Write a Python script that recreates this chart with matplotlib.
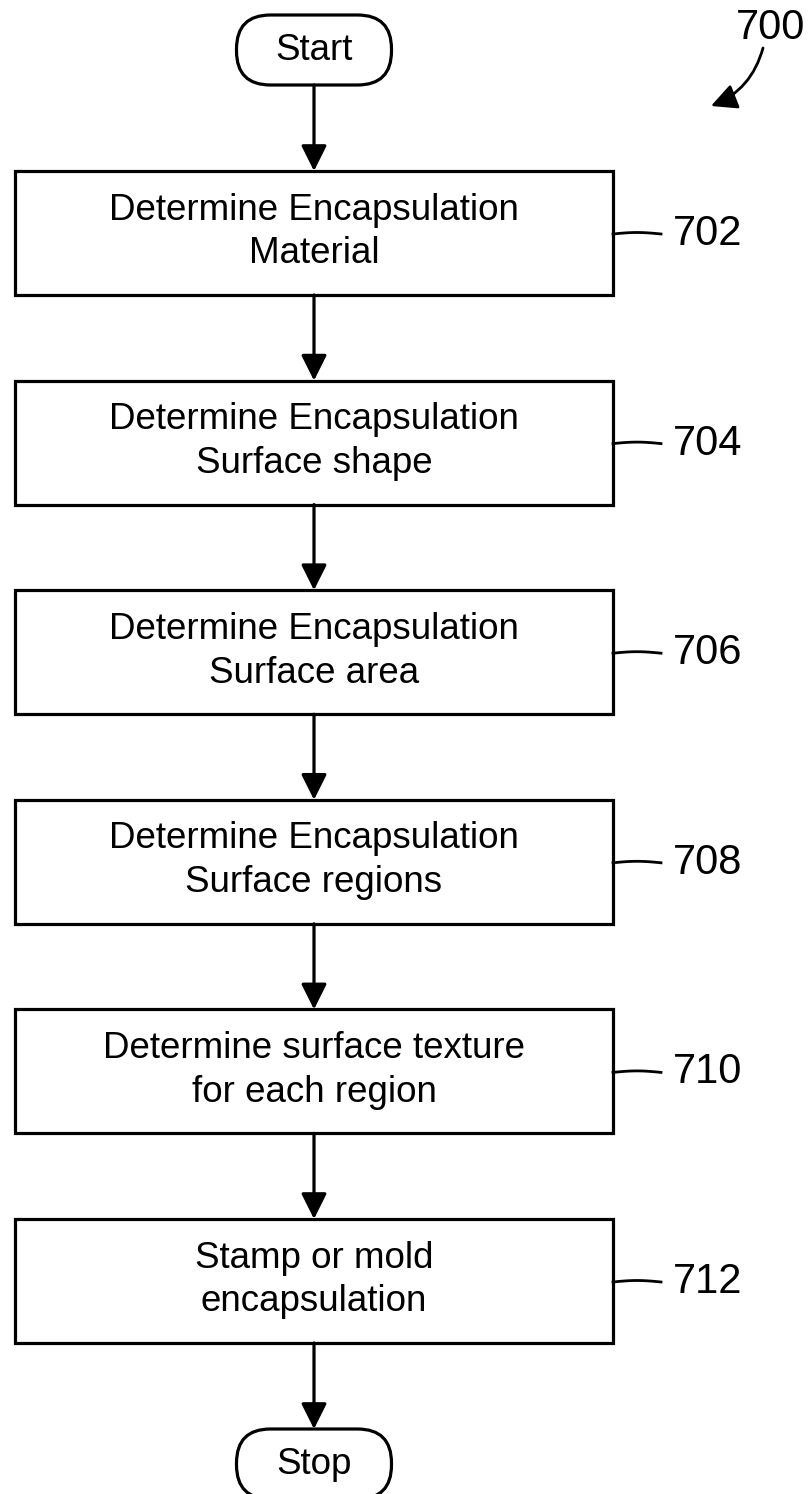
import matplotlib.pyplot as plt
from matplotlib.patches import FancyBboxPatch, Rectangle, FancyArrowPatch
import numpy as np

plt.rcParams['font.family'] = ['Liberation Sans', 'DejaVu Sans']

# flowchart content
steps = [
    'Determine Encapsulation\nMaterial',
    'Determine Encapsulation\nSurface shape',
    'Determine Encapsulation\nSurface area',
    'Determine Encapsulation\nSurface regions',
    'Determine surface texture\nfor each region',
    'Stamp or mold\nencapsulation',
]
step_ids = ['702', '704', '706', '708', '710', '712']
figure_id = '700'
terminals = ['Start', 'Stop']

W, H = 808, 1494
fig = plt.figure(figsize=(W / 100, H / 100), dpi=100)
ax = fig.add_axes([0, 0, 1, 1])
ax.set_xlim(0, W)
ax.set_ylim(H, 0)
ax.set_aspect('equal')
ax.axis('off')

lw = 2.3
cx = 314
box_l, box_r = 15, 613
box_h = 124
top0, gap = 171, 209.6
pill_w, pill_h = 155, 70
fs = 26.5


def pill(y_top, text):
    p = FancyBboxPatch((cx - pill_w / 2, y_top), pill_w, pill_h,
                       boxstyle='round,pad=0,rounding_size=%d' % (pill_h / 2 - 1),
                       fc='white', ec='black', lw=lw)
    ax.add_patch(p)
    ax.text(cx, y_top + pill_h / 2 + 1, text, ha='center', va='center', fontsize=fs)


def arrow(y0, y1):
    ax.add_patch(FancyArrowPatch((cx, y0), (cx, y1), arrowstyle='-|>,head_length=6,head_width=3',
                                 mutation_scale=2.6, color='black', lw=lw, shrinkA=0, shrinkB=0))


start_top = 15
stop_top = 1429
pill(start_top, terminals[0])
arrow(start_top + pill_h, top0)

for i, (txt, sid) in enumerate(zip(steps, step_ids)):
    top = top0 + i * gap
    ax.add_patch(Rectangle((box_l, top), box_r - box_l, box_h, fc='white', ec='black', lw=lw))
    mid = top + box_h / 2
    ax.text(cx, mid - 1, txt, ha='center', va='center', fontsize=fs, linespacing=1.32)
    # leader line, slightly bowed
    xs = np.linspace(box_r, box_r + 48, 20)
    ys = mid + 1 - 1.5 * np.sin((xs - box_r) / 48 * np.pi)
    ax.plot(xs, ys, color='black', lw=2)
    ax.text(box_r + 60, mid + 1, sid, ha='left', va='center', fontsize=30)
    if i < len(steps) - 1:
        arrow(top + box_h, top + gap)
    else:
        arrow(top + box_h, stop_top)

pill(stop_top, terminals[1])

# figure reference number with curved pointer
ax.text(736, 28, figure_id, ha='left', va='center', fontsize=30)
ax.add_patch(FancyArrowPatch((763, 48), (711, 106), connectionstyle='arc3,rad=-0.25',
                             arrowstyle='-|>,head_length=6,head_width=3', mutation_scale=2.6,
                             color='black', lw=2, shrinkA=0, shrinkB=0))

plt.savefig('out.png', dpi=100)
